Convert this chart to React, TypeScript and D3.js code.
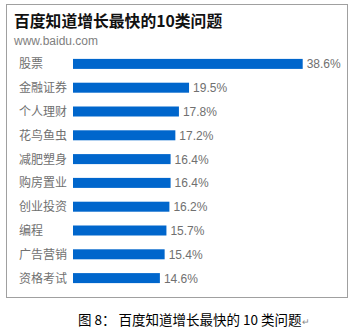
import { useEffect, useRef } from "react";
import * as d3 from "d3";

const categories = ["股票", "金融证券", "个人理财", "花鸟鱼虫", "减肥塑身", "购房置业", "创业投资", "编程", "广告营销", "资格考试"];
const values = [38.6, 19.5, 17.8, 17.2, 16.4, 16.4, 16.2, 15.7, 15.4, 14.6];
const title = "百度知道增长最快的10类问题";
const subtitle = "www.baidu.com";
const caption = "图 8： 百度知道增长最快的 10 类问题";

export default function App() {
  const ref = useRef<SVGSVGElement>(null);

  useEffect(() => {
    if (!ref.current) return;
    const svg = d3.select(ref.current);
    svg.selectAll("*").remove();

    const width = 354, height = 335;
    const font = "'Liberation Sans', Arial, 'Noto Sans CJK SC', sans-serif";
    const cjk = "'Noto Sans CJK SC', sans-serif";

    svg.append("rect").attr("width", width).attr("height", height).attr("fill", "#fff");

    // frame
    svg.append("rect")
      .attr("x", 6.5).attr("y", 4.5)
      .attr("width", 341).attr("height", 293)
      .attr("fill", "none").attr("stroke", "#a0a0a0").attr("stroke-width", 1);

    svg.append("text")
      .attr("x", 14).attr("y", 27)
      .attr("font-family", cjk).attr("font-size", 15.8).attr("font-weight", "bold")
      .attr("fill", "#111")
      .text(title);

    svg.append("text")
      .attr("x", 14).attr("y", 45)
      .attr("font-family", font).attr("font-size", 12)
      .attr("fill", "#808080")
      .text(subtitle);

    const step = 23.8;
    const y0 = 52;
    const pad = 1 - 10 / step;
    const y = d3.scaleBand<string>()
      .domain(categories)
      .range([y0, y0 + step * categories.length])
      .paddingInner(pad)
      .paddingOuter(pad / 2);

    const x = d3.scaleLinear().domain([0, 38.6]).range([73, 302.7]);

    const data = categories.map((c, i) => ({ c, v: values[i] }));

    const g = svg.append("g");
    g.selectAll("rect.bar")
      .data(data)
      .join("rect")
      .attr("class", "bar")
      .attr("x", x(0))
      .attr("y", d => y(d.c)!)
      .attr("width", d => x(d.v) - x(0))
      .attr("height", y.bandwidth())
      .attr("fill", "#0066cc");

    g.selectAll("text.cat")
      .data(data)
      .join("text")
      .attr("class", "cat")
      .attr("x", 19)
      .attr("y", d => y(d.c)! + y.bandwidth() / 2 + 4.5)
      .attr("font-family", cjk).attr("font-size", 12)
      .attr("fill", "#707070")
      .text(d => d.c);

    g.selectAll("text.val")
      .data(data)
      .join("text")
      .attr("class", "val")
      .attr("x", d => x(d.v) + 4)
      .attr("y", d => y(d.c)! + y.bandwidth() / 2 + 4.5)
      .attr("font-family", font).attr("font-size", 12)
      .attr("fill", "#707070")
      .text(d => d.v.toFixed(1) + "%");

    const cap = svg.append("text")
      .attr("x", 78).attr("y", 325)
      .attr("font-family", cjk).attr("font-size", 13.5)
      .attr("fill", "#000");
    cap.append("tspan").text(caption);
    cap.append("tspan").attr("font-size", 9).attr("fill", "#888").text("↵");
  }, []);

  return (
    <div style={{ position: "absolute", left: 0, top: 0 }}>
      <svg ref={ref} width={354} height={335} style={{ display: "block" }} />
    </div>
  );
}
